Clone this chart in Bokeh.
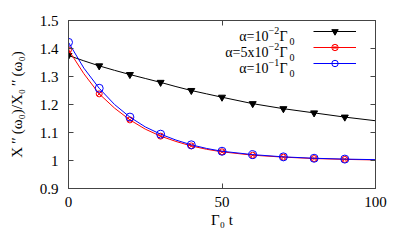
from bokeh.plotting import figure
from bokeh.models import LinearAxis, FixedTicker, Label, Legend, LegendItem, Range1d
from bokeh.embed import file_html
from bokeh.resources import INLINE

# ---- data ----
t_line = [0, 5, 10, 15, 20, 25, 30, 35, 40, 45, 50, 60, 70, 80, 90, 100]
black_line = [1.375, 1.356, 1.338, 1.322, 1.307, 1.293, 1.279, 1.264, 1.250, 1.238,
              1.226, 1.203, 1.185, 1.170, 1.155, 1.142]
red_line = [1.395, 1.310, 1.238, 1.187, 1.145, 1.112, 1.087, 1.068, 1.052, 1.040,
            1.031, 1.019, 1.012, 1.007, 1.004, 1.002]
blue_line = [1.422, 1.330, 1.258, 1.200, 1.155, 1.120, 1.094, 1.073, 1.056, 1.043,
             1.033, 1.021, 1.013, 1.008, 1.005, 1.003]

t_pts = [0, 10, 20, 30, 40, 50, 60, 70, 80, 90]
black_pts = [1.375, 1.338, 1.307, 1.279, 1.250, 1.226, 1.203, 1.185, 1.170, 1.155]
red_pts = [1.395, 1.238, 1.145, 1.087, 1.052, 1.031, 1.019, 1.012, 1.007, 1.004]
blue_pts = [1.422, 1.258, 1.155, 1.094, 1.056, 1.033, 1.021, 1.013, 1.008, 1.005]

x_ticks = [0, 50, 100]
y_ticks = [0.9, 1.0, 1.1, 1.2, 1.3, 1.4, 1.5]
y_tick_labels = ["0.9", "1", "1.1", "1.2", "1.3", "1.4", "1.5"]

x_title = "Γ₀ t"
y_title = "X\u2009′′\u2009(ω₀)/X₀\u2009′′\u2009(ω₀)"
legend_main = ["α=10", "α=5x10", "α=10"]
legend_sup = ["−2", "−2", "−1"]

FONT = "Liberation Serif"
AX = "#444444"

p = figure(width=397, height=241, x_range=Range1d(0, 100), y_range=Range1d(0.9, 1.5),
           output_backend="svg", toolbar_location=None,
           min_border_left=68, min_border_right=22, min_border_top=20, min_border_bottom=53)
p.grid.visible = False
p.outline_line_color = AX
p.background_fill_color = "white"
p.border_fill_color = "white"


def style_axis(ax, ticks, show_labels=True):
    ax.ticker = FixedTicker(ticks=ticks)
    ax.major_tick_in = 5
    ax.major_tick_out = 0
    ax.minor_tick_in = 0
    ax.minor_tick_out = 0
    ax.axis_line_color = AX
    ax.major_tick_line_color = AX
    ax.major_label_text_font = FONT
    if show_labels:
        ax.major_label_text_color = "black"
        ax.major_label_text_font_size = "15px"
    else:
        ax.major_label_text_color = None
        ax.major_label_text_font_size = "1px"
        ax.major_label_standoff = 0


style_axis(p.xaxis[0], x_ticks)
p.xaxis[0].major_label_standoff = 8
p.xaxis[0].axis_label = x_title
p.xaxis[0].axis_label_text_font = FONT
p.xaxis[0].axis_label_text_font_size = "15px"
p.xaxis[0].axis_label_text_font_style = "normal"
p.xaxis[0].axis_label_text_color = "black"
p.xaxis[0].axis_label_standoff = 2

style_axis(p.yaxis[0], y_ticks)
p.yaxis[0].major_label_standoff = 10
p.yaxis[0].major_label_overrides = {v: s for v, s in zip(y_ticks, y_tick_labels)}
p.yaxis[0].axis_label = y_title
p.yaxis[0].axis_label_text_font = FONT
p.yaxis[0].axis_label_text_font_size = "15px"
p.yaxis[0].axis_label_text_font_style = "normal"
p.yaxis[0].axis_label_text_color = "black"
p.yaxis[0].axis_label_standoff = 12

right = LinearAxis()
style_axis(right, y_ticks, show_labels=False)
p.add_layout(right, "right")
top = LinearAxis()
style_axis(top, x_ticks, show_labels=False)
p.add_layout(top, "above")

# ---- series ----
l1 = p.line(t_line, black_line, line_color="black", line_width=1)
m1 = p.scatter(t_pts, black_pts, marker="inverted_triangle", size=7,
               line_color="black", fill_color="black")
l2 = p.line(t_line, red_line, line_color="#ff0000", line_width=1)
m2 = p.scatter(t_pts, red_pts, marker="circle_x", size=6,
               line_color="#ff0000", fill_color=None)
l3 = p.line(t_line, blue_line, line_color="#0000ff", line_width=1)
m3 = p.scatter(t_pts, blue_pts, marker="circle", size=8,
               line_color="#0000ff", fill_color=None)

legend = Legend(items=[LegendItem(label=" ", renderers=[l1, m1]),
                       LegendItem(label=" ", renderers=[l2, m2]),
                       LegendItem(label=" ", renderers=[l3, m3])],
                location=(245, 117), orientation="vertical",
                glyph_width=43, glyph_height=16, label_width=0, label_height=16,
                label_standoff=0, spacing=0, padding=0, margin=0,
                border_line_color=None, background_fill_alpha=0,
                label_text_font_size="1px", label_text_color=None)
p.add_layout(legend)

# frame in page coords: left 68, bottom 188
FL, FB = 68, 188


def lab(text, px, py, size, align="left"):
    p.add_layout(Label(x=px - FL, y=FB - py, x_units="screen", y_units="screen",
                       text=text, text_font=FONT, text_font_size=f"{size}px",
                       text_color="black", text_align=align,
                       text_baseline="alphabetic"))


# legend texts (right aligned like the original)
for i, (mtxt, stxt) in enumerate(zip(legend_main, legend_sup)):
    base = 36 + i * 16
    lab(mtxt, 268, base, 14, align="right")
    lab(stxt, 268, base - 6, 10)
    lab("Γ", 279, base, 14)
    lab("0", 289, base + 5, 10)

open("out.html", "w").write(file_html(p, INLINE))
